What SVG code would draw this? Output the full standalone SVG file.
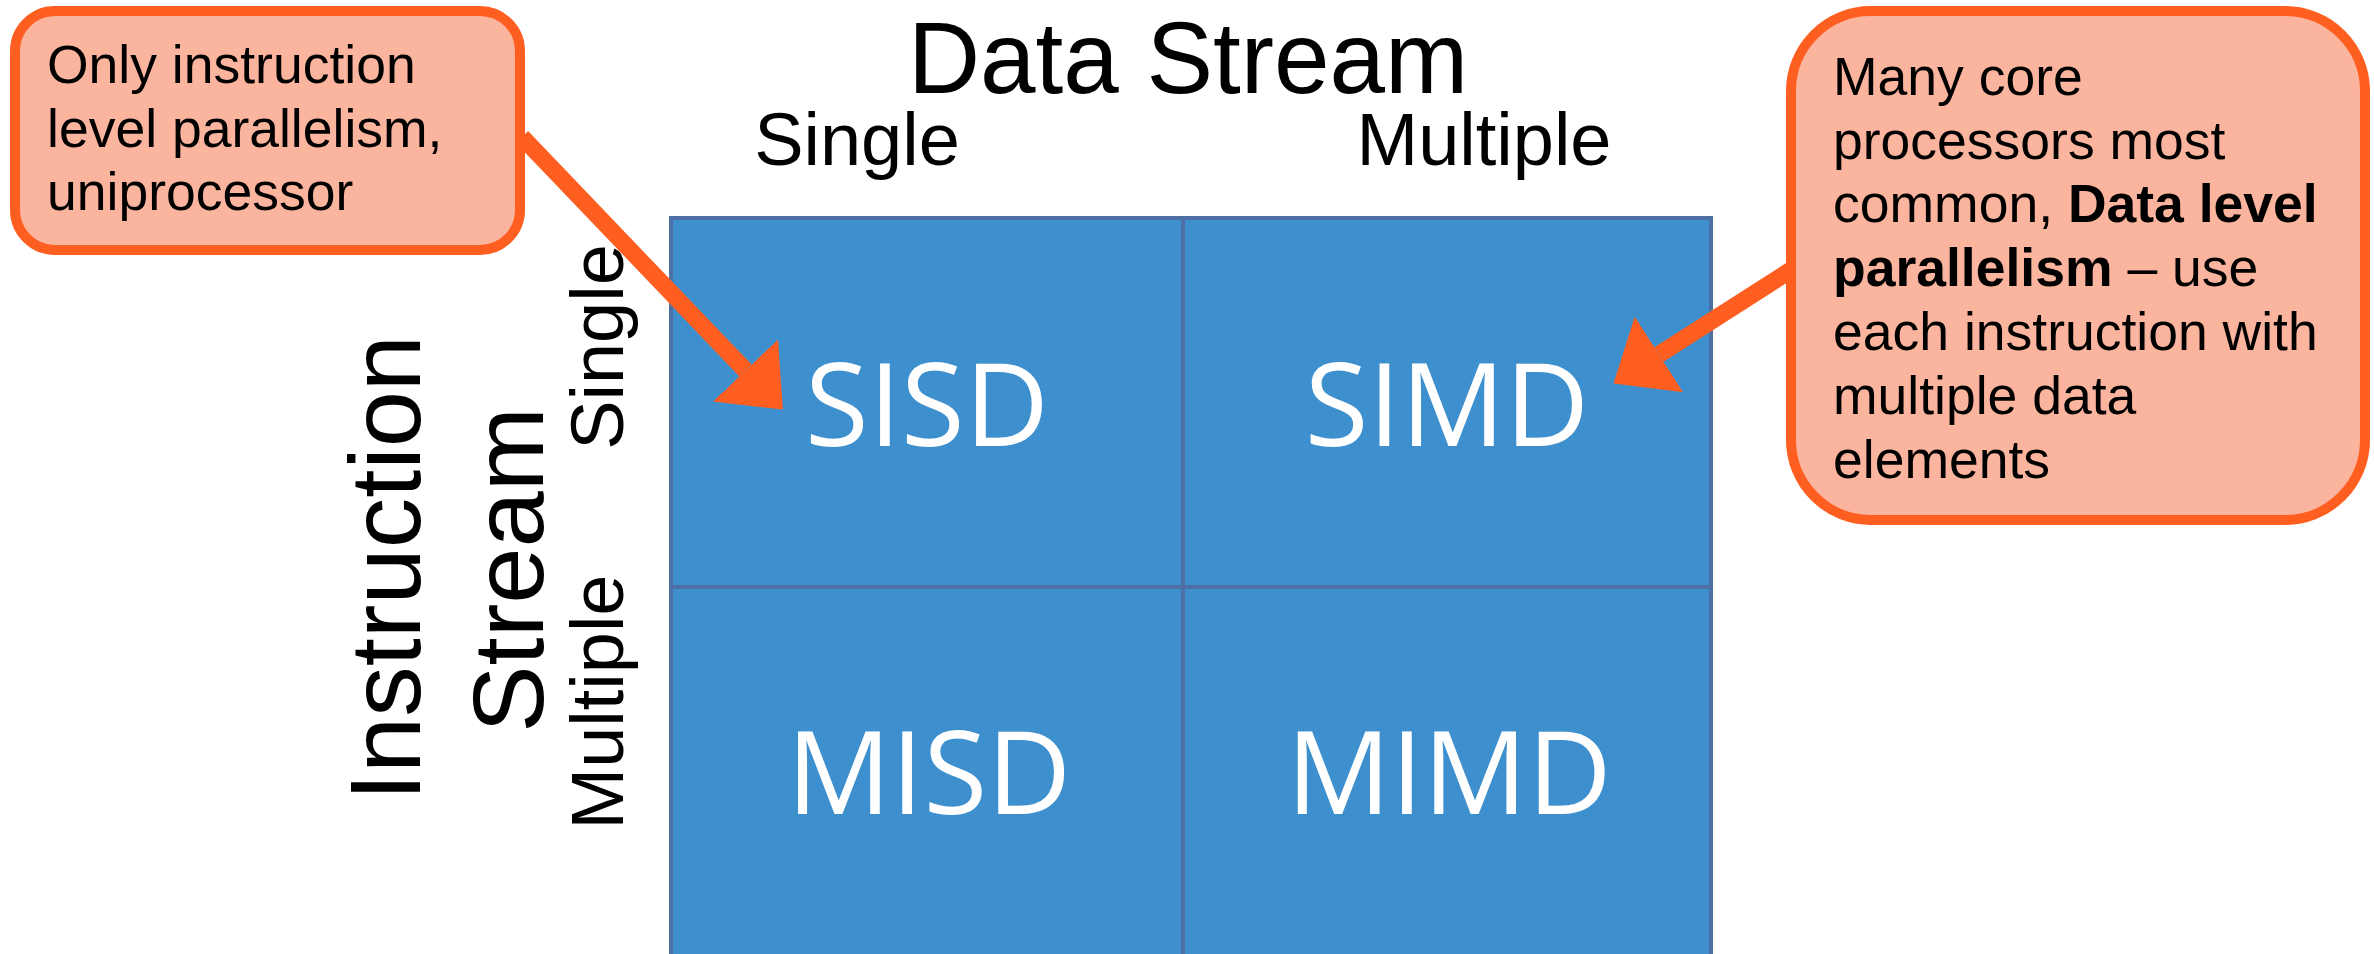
<svg xmlns="http://www.w3.org/2000/svg" width="2374" height="954" viewBox="0 0 2374 954">
  <style>
    .callout { fill: #FBB49D; stroke: #FF5E21; stroke-width: 10; }
    .ctext { font-family: "Liberation Sans", Arial, sans-serif; font-size: 53.5px; fill: #000; }
    .b { font-weight: bold; }
    .axis { font-family: "Liberation Sans", Arial, sans-serif; fill: #000; text-anchor: middle; }
    .big { font-size: 101px; }
    .small { font-size: 74px; }
    .cell { fill: #3D8FCD; stroke: none; }
    .gridline { stroke: #4E6FA3; stroke-width: 4; fill: none; }
    .clabel { font-family: "Open Sans", "Noto Sans", sans-serif; font-size: 116px; fill: #FFFFFF; text-anchor: middle; }
    .conn { stroke: #FF5E21; stroke-width: 17; fill: none; stroke-linecap: butt; }
  </style>
  <defs>
    <marker id="head" markerUnits="userSpaceOnUse" viewBox="0 0 54 90" markerWidth="54" markerHeight="90" refX="0" refY="45" orient="auto">
      <path d="M0,0 L54,45 L0,90 Z" fill="#FF5E21"/>
    </marker>
  </defs>
  <rect width="2374" height="954" fill="#FFFFFF"/>

  <g id="axis-labels">
    <text class="axis" x="1188" y="93" style="font-size:102px" textLength="560" lengthAdjust="spacingAndGlyphs">Data Stream</text>
    <text class="axis small" x="857" y="165">Single</text>
    <text class="axis small" x="1484" y="165">Multiple</text>
    <text class="axis big" transform="translate(420,568) rotate(-90)">Instruction</text>
    <text class="axis big" transform="translate(543,570) rotate(-90)">Stream</text>
    <text class="axis small" transform="translate(623,347) rotate(-90)">Single</text>
    <text class="axis small" transform="translate(623,702) rotate(-90)">Multiple</text>
  </g>

  <g id="grid">
    <rect class="cell" x="671" y="218" width="1040" height="760"/>
    <rect class="gridline" x="671" y="218" width="1040" height="760"/>
    <line class="gridline" x1="1183" y1="218" x2="1183" y2="954"/>
    <line class="gridline" x1="671" y1="587" x2="1711" y2="587"/>
  </g>

  <g id="node-sisd"><text class="clabel" x="927" y="446">SISD</text></g>
  <g id="node-simd"><text class="clabel" x="1447" y="446">SIMD</text></g>
  <g id="node-misd"><text class="clabel" x="929" y="814">MISD</text></g>
  <g id="node-mimd"><text class="clabel" x="1449" y="814">MIMD</text></g>

  <g id="callout-left">
    <rect class="callout" x="15" y="11" width="505" height="239" rx="40" ry="40"/>
    <text class="ctext" x="47" y="83">Only instruction</text>
    <text class="ctext" x="47" y="147">level parallelism,</text>
    <text class="ctext" x="47" y="210">uniprocessor</text>
  </g>

  <g id="callout-right">
    <rect class="callout" x="1791" y="11" width="574" height="509" rx="80" ry="80"/>
    <text class="ctext" x="1833" y="95">Many core</text>
    <text class="ctext" x="1833" y="159">processors most</text>
    <text class="ctext" x="1833" y="222">common, <tspan class="b">Data level</tspan></text>
    <text class="ctext" x="1833" y="286"><tspan class="b">parallelism</tspan> – use</text>
    <text class="ctext" x="1833" y="350">each instruction with</text>
    <text class="ctext" x="1833" y="414">multiple data</text>
    <text class="ctext" x="1833" y="478">elements</text>
  </g>

  <g id="connectors">
    <line class="conn" x1="522" y1="137" x2="745.5" y2="370.5" marker-end="url(#head)"/>
    <line class="conn" x1="1791" y1="270" x2="1659" y2="354.5" marker-end="url(#head)"/>
  </g>
</svg>
